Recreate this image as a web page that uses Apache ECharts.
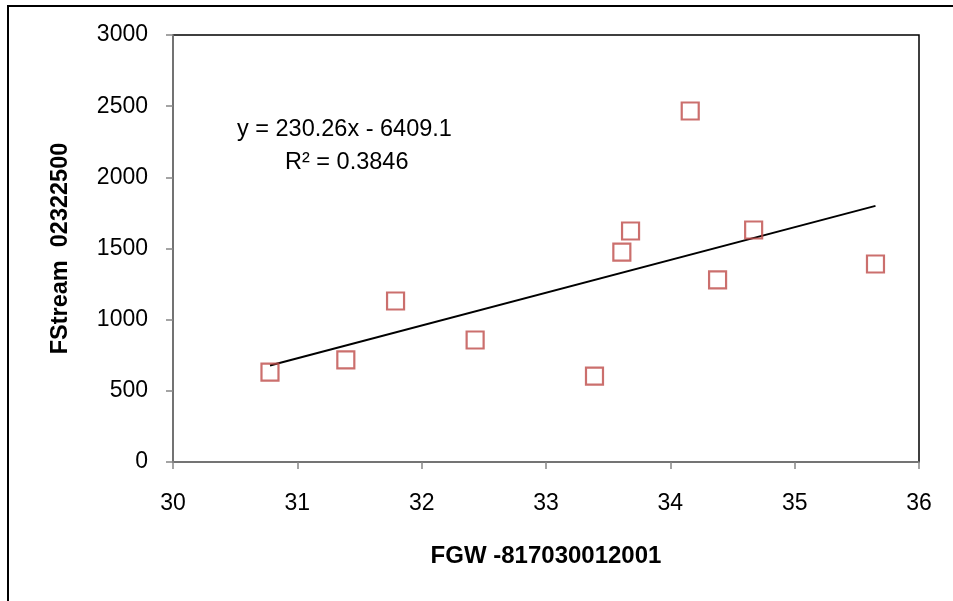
<!DOCTYPE html>
<html>
<head>
<meta charset="utf-8">
<script src="https://cdn.jsdelivr.net/npm/echarts@6/dist/echarts.min.js"></script>
<style>html,body{margin:0;padding:0;background:#fff;}#c{width:953px;height:601px;}</style>
</head>
<body>
<div id="c"></div>
<script>
// Data
const xValues = [30.78, 31.39, 31.79, 32.43, 33.39, 33.61, 33.68, 34.16, 34.38, 34.67, 35.65];
const yValues = [632, 717, 1131, 857, 604, 1475, 1623, 2466, 1279, 1630, 1391];
const slope = 230.26;
const intercept = -6409.1;
const equationText = 'y = 230.26x - 6409.1';
const r2Text = 'R² = 0.3846';
const xAxisTitle = 'FGW -817030012001';
const yAxisTitle = 'FStream  02322500';

const points = xValues.map((x, i) => [x, yValues[i]]);
const xMin = Math.min(...xValues), xMax = Math.max(...xValues);
const trend = [[xMin, slope * xMin + intercept], [xMax, slope * xMax + intercept]];

const font = '"Liberation Sans", Arial, sans-serif';
const chart = echarts.init(document.getElementById('c'));
chart.setOption({
  animation: false,
  backgroundColor: '#fff',
  grid: { left: 173, right: 34, top: 35, bottom: 139, show: true, borderColor: '#000', borderWidth: 1.5, backgroundColor: 'transparent' },
  xAxis: {
    type: 'value', min: 30, max: 36, interval: 1,
    name: xAxisTitle, nameLocation: 'middle', nameGap: 82,
    nameTextStyle: { fontFamily: font, fontSize: 24, fontWeight: 'bold', color: '#000' },
    axisLine: { show: true, onZero: false, lineStyle: { color: '#868686', width: 1.5 } },
    axisTick: { show: true, inside: false, length: 7, lineStyle: { color: '#868686', width: 1.5 } },
    axisLabel: { margin: 30, fontFamily: font, fontSize: 23, color: '#000', formatter: v => String(v) },
    splitLine: { show: false }
  },
  yAxis: {
    type: 'value', min: 0, max: 3000, interval: 500,
    name: yAxisTitle, nameLocation: 'middle', nameGap: 100,
    nameTextStyle: { fontFamily: font, fontSize: 23.5, fontWeight: 'bold', color: '#000' },
    axisLine: { show: true, onZero: false, lineStyle: { color: '#868686', width: 1.5 } },
    axisTick: { show: true, inside: false, length: 7, lineStyle: { color: '#868686', width: 1.5 } },
    axisLabel: { margin: 25, fontFamily: font, fontSize: 23, color: '#000', formatter: v => String(v) },
    splitLine: { show: false }
  },
  series: [
    {
      type: 'line', data: trend, showSymbol: false, symbol: 'none',
      lineStyle: { color: '#000', width: 2 }, z: 2, silent: true
    },
    {
      type: 'scatter', data: points, symbol: 'rect', symbolSize: 17,
      itemStyle: { color: 'rgba(255,255,255,0)', borderColor: '#BE4B48', borderWidth: 2.2 }, z: 3
    }
  ],
  graphic: [
    { type: 'rect', shape: { x: 8, y: 6, width: 960, height: 620 }, style: { fill: 'none', stroke: '#000', lineWidth: 2 }, silent: true, z: 100 },
    { type: 'text', left: 237, top: 118, style: { text: equationText, font: '23.5px ' + font, fill: '#000' }, z: 100 },
    { type: 'text', left: 285, top: 151, style: { text: r2Text, font: '23.5px ' + font, fill: '#000' }, z: 100 }
  ]
});
</script>
</body>
</html>
